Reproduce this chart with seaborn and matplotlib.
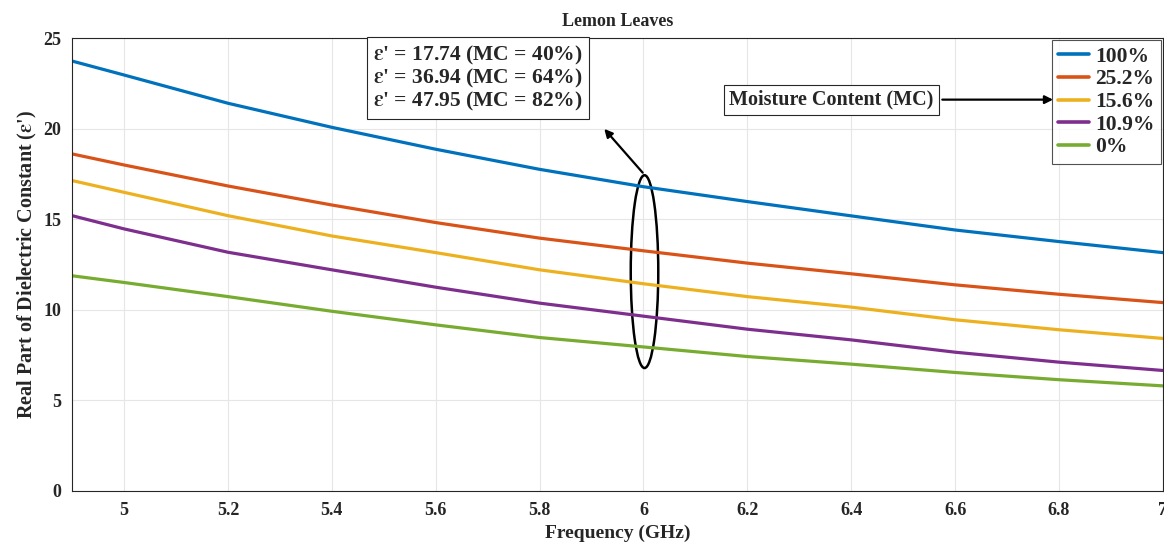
import matplotlib as mpl
import matplotlib.pyplot as plt
import numpy as np
import pandas as pd
import seaborn as sns
from matplotlib.patches import Ellipse

freq = [4.9, 5.0, 5.2, 5.4, 5.6, 5.8, 6.0, 6.2, 6.4, 6.6, 6.8, 7.0]
mc_100 = [23.73, 22.96, 21.40, 20.07, 18.86, 17.75, 16.79, 15.97, 15.18, 14.40, 13.76, 13.15]
mc_252 = [18.60, 17.99, 16.83, 15.78, 14.81, 13.95, 13.25, 12.57, 11.98, 11.37, 10.85, 10.39]
mc_156 = [17.13, 16.48, 15.19, 14.07, 13.15, 12.20, 11.43, 10.72, 10.14, 9.44, 8.89, 8.41]
mc_109 = [15.19, 14.46, 13.17, 12.20, 11.24, 10.36, 9.64, 8.92, 8.33, 7.65, 7.10, 6.64]
mc_0 = [11.87, 11.50, 10.72, 9.91, 9.16, 8.46, 7.94, 7.41, 6.99, 6.53, 6.13, 5.79]

series_labels = ["100%", "25.2%", "15.6%", "10.9%", "0%"]
series_values = [mc_100, mc_252, mc_156, mc_109, mc_0]
colors = ["#0072BD", "#D95319", "#EDB120", "#7E2F8E", "#77AC30"]

x_ticks = [5, 5.2, 5.4, 5.6, 5.8, 6, 6.2, 6.4, 6.6, 6.8, 7]
y_ticks = [0, 5, 10, 15, 20, 25]
note_lines = [
    r"$\epsilon$' = 17.74 (MC = 40%)",
    r"$\epsilon$' = 36.94 (MC = 64%)",
    r"$\epsilon$' = 47.95 (MC = 82%)",
]

df = pd.DataFrame(
    {
        "freq": np.tile(freq, len(series_labels)),
        "eps": np.concatenate(series_values),
        "MC": np.repeat(series_labels, len(freq)),
    }
)

sns.set_theme(style="whitegrid")
plt.rcParams["font.family"] = ["Liberation Serif", "DejaVu Serif"]
plt.rcParams["font.weight"] = "bold"
plt.rcParams["mathtext.fontset"] = "stix"
plt.rcParams["mathtext.default"] = "bf"

fig = plt.figure(figsize=(11.64, 5.44), dpi=100)
ax = fig.add_axes([0.062, 0.098, 0.937, 0.832])

sns.lineplot(
    data=df, x="freq", y="eps", hue="MC", hue_order=series_labels,
    palette=colors, linewidth=2.3, ax=ax,
)

ax.set_xlim(4.9, 7)
ax.set_ylim(0, 25)
ax.set_xticks(x_ticks)
ax.set_xticklabels([f"{t:g}" for t in x_ticks])
ax.set_yticks(y_ticks)
ax.tick_params(direction="in", length=5, labelsize=13, colors="#262626", pad=8)
for lbl in ax.get_xticklabels() + ax.get_yticklabels():
    lbl.set_fontweight("bold")
ax.grid(True, color="#e6e6e6", linewidth=0.8)
ax.set_facecolor("white")
for spine in ax.spines.values():
    spine.set_color("#262626")
    spine.set_linewidth(0.8)

ax.set_xlabel("Frequency (GHz)", fontsize=14, fontweight="bold", labelpad=4)
ax.set_ylabel(r"Real Part of Dielectric Constant ($\epsilon$')", fontsize=14.5,
              fontweight="bold", labelpad=3)
ax.set_title("Lemon Leaves", fontsize=13, fontweight="bold", pad=9)

leg = ax.legend(
    loc="upper right", fontsize=15.5, handlelength=1.45, handletextpad=0.25,
    borderaxespad=0.1, labelspacing=0.12, frameon=True, fancybox=False,
    borderpad=0.3,
)
leg.get_frame().set_edgecolor("#262626")
leg.get_frame().set_linewidth(0.8)
for t in leg.get_texts():
    t.set_fontweight("bold")
for h in leg.get_lines():
    h.set_linewidth(2.6)

ax.text(
    5.48, 24.7, "\n".join(note_lines), fontsize=15.5, fontweight="bold",
    va="top", ha="left", linespacing=1.0,
    bbox=dict(boxstyle="square,pad=0.3", fc="white", ec="#262626", lw=0.8),
)

ax.text(
    6.362, 21.6, "Moisture Content (MC)", fontsize=14.5, fontweight="bold",
    va="center", ha="center",
    bbox=dict(boxstyle="square,pad=0.25", fc="white", ec="#262626", lw=0.8),
)
ax.annotate("", xy=(6.794, 21.6), xytext=(6.57, 21.6),
            arrowprops=dict(arrowstyle="-|>", color="black", lw=1.6,
                            mutation_scale=12))

ax.add_patch(Ellipse((6.002, 12.1), 0.053, 10.65, fill=False, ec="black", lw=1.8))
ax.annotate("", xy=(5.921, 20.1), xytext=(6.002, 17.45),
            arrowprops=dict(arrowstyle="-|>", color="black", lw=1.6,
                            mutation_scale=12))

fig.savefig("out.png", dpi=100)
